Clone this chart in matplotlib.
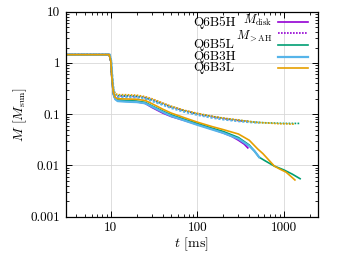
"""Disk mass and mass outside AH vs time for Q6 models (log-log)."""
import numpy as np
import matplotlib
matplotlib.use("Agg")
import matplotlib.pyplot as plt

plt.rcParams["font.family"] = ["cmr10", "DejaVu Serif"]
plt.rcParams["mathtext.fontset"] = "cm"
plt.rcParams["axes.formatter.use_mathtext"] = True

# model names, colours
MODELS = ["Q6B5H", "Q6B5L", "Q6B3H", "Q6B3L"]
COLORS = {"Q6B5H": "#9400d3", "Q6B5L": "#009e73", "Q6B3H": "#56b4e9", "Q6B3L": "#e69f00"}

# time [ms]
T_B5H = [3, 9.6, 10.0, 10.3, 10.7, 11.2, 12, 15, 20, 25, 30, 40, 50, 70, 100, 150, 200, 250, 300, 350, 385]
T_B5L = [3, 9.6, 10.0, 10.3, 10.7, 11.2, 12, 15, 20, 25, 30, 40, 50, 70, 100, 150, 200, 300, 400, 460, 520,
         600, 780, 1000, 1250, 1550]
T_B3H = [3, 9.7, 10.1, 10.4, 10.8, 11.3, 12, 15, 20, 25, 30, 40, 50, 70, 100, 150, 200, 300, 400, 460, 520]
T_B3L = [3, 9.6, 10.0, 10.3, 10.7, 11.2, 12, 15, 20, 25, 30, 40, 50, 70, 100, 150, 200, 300, 400, 500, 575,
         680, 780, 900, 1065, 1200, 1350]

# M_disk [M_sun]
DISK_B5H = [1.45, 1.45, 1.1, 0.5, 0.25, 0.2, 0.185, 0.18, 0.175, 0.162, 0.135, 0.105, 0.09, 0.076, 0.063,
            0.051, 0.043, 0.037, 0.031, 0.026, 0.022]
DISK_B5L = [1.45, 1.45, 1.1, 0.5, 0.25, 0.205, 0.19, 0.185, 0.18, 0.17, 0.145, 0.115, 0.097, 0.08, 0.066,
            0.053, 0.046, 0.035, 0.025, 0.019, 0.0145, 0.0125, 0.0097, 0.0082, 0.0068, 0.0055]
DISK_B3H = [1.45, 1.45, 1.1, 0.5, 0.24, 0.195, 0.18, 0.175, 0.172, 0.163, 0.14, 0.11, 0.092, 0.076, 0.062,
            0.05, 0.043, 0.033, 0.024, 0.019, 0.0145]
DISK_B3L = [1.45, 1.45, 1.1, 0.52, 0.27, 0.215, 0.2, 0.198, 0.195, 0.185, 0.16, 0.125, 0.105, 0.086, 0.07,
            0.057, 0.05, 0.041, 0.031, 0.021, 0.017, 0.0125, 0.0097, 0.0085, 0.0074, 0.0062, 0.0052]

# M_>AH [M_sun]
AH_B5H = [1.45, 1.45, 1.1, 0.55, 0.3, 0.24, 0.225, 0.225, 0.22, 0.21, 0.19, 0.16, 0.138, 0.117, 0.101,
          0.089, 0.082, 0.078, 0.075, 0.073, 0.072]
AH_B5L = [1.45, 1.45, 1.1, 0.55, 0.3, 0.245, 0.23, 0.23, 0.225, 0.21, 0.19, 0.16, 0.14, 0.118, 0.102,
          0.09, 0.083, 0.076, 0.072, 0.070, 0.069, 0.068, 0.067, 0.066, 0.066, 0.066]
AH_B3H = [1.45, 1.45, 1.1, 0.55, 0.29, 0.23, 0.215, 0.215, 0.212, 0.2, 0.18, 0.152, 0.132, 0.112, 0.097,
          0.085, 0.079, 0.073, 0.070, 0.069, 0.068]
AH_B3L = [1.45, 1.45, 1.1, 0.56, 0.31, 0.255, 0.24, 0.24, 0.235, 0.22, 0.2, 0.165, 0.143, 0.12, 0.104,
          0.091, 0.084, 0.077, 0.072, 0.069, 0.068, 0.067, 0.066, 0.065, 0.065, 0.064, 0.064]

SERIES = {
    "Q6B5H": (T_B5H, DISK_B5H, AH_B5H),
    "Q6B5L": (T_B5L, DISK_B5L, AH_B5L),
    "Q6B3H": (T_B3H, DISK_B3H, AH_B3H),
    "Q6B3L": (T_B3L, DISK_B3L, AH_B3L),
}
DOT = (0, (1.0, 0.8))

fig = plt.figure(figsize=(3.38, 2.54), dpi=100)
ax = fig.add_axes([0.194, 0.147, 0.747, 0.807])

for name in MODELS:
    t, d, a = SERIES[name]
    lw = 1.6 if name == "Q6B3H" else 1.2
    ax.plot(t, a, color=COLORS[name], lw=lw, ls=DOT)
for name in MODELS:
    t, d, a = SERIES[name]
    lw = 1.6 if name == "Q6B3H" else 1.2
    ax.plot(t, d, color=COLORS[name], lw=lw)

ax.set_xscale("log"); ax.set_yscale("log")
ax.set_xlim(3, 2500); ax.set_ylim(0.001, 10)
ax.set_xticks([10, 100, 1000]); ax.set_xticklabels(["10", "100", "1000"])
ax.set_yticks([0.001, 0.01, 0.1, 1, 10])
ax.set_yticklabels(["0.001", "0.01", "0.1", "1", "10"])
ax.tick_params(which="both", direction="in", top=True, right=True, labelsize=9.5, pad=4)
ax.tick_params(which="major", length=4.5, width=0.7)
ax.tick_params(which="minor", length=2.5, width=0.6)
ax.grid(True, which="major", color="#d8d8d8", lw=0.6)
for s in ax.spines.values():
    s.set_linewidth(0.9)

ax.set_xlabel(r"$t$ [ms]", fontsize=10, labelpad=1)
ax.set_ylabel(r"$M$ [$M_{\rm sun}$]", fontsize=10, labelpad=1)

# key, gnuplot style: names left, samples right
tr = ax.transAxes
rows = [0.948, 0.895, 0.838, 0.781, 0.724]
keys = [("Q6B5H", "-"), ("Q6B5H", ":"), ("Q6B5L", "-"), ("Q6B3H", "-"), ("Q6B3L", "-")]
for i, (name, ls) in enumerate(keys):
    y = rows[i]
    ax.plot([0.84, 0.96], [y, y], transform=tr, color=COLORS[name],
            lw=1.6 if name == "Q6B3H" else 1.2, ls=DOT if ls == ":" else "-")
    if i != 1:
        ax.text(0.505, y, name, transform=tr, fontsize=9.5, va="center", ha="left")
ax.text(0.82, rows[0] + 0.01, r"$M_{\rm disk}$", transform=tr, fontsize=9, va="center", ha="right")
ax.text(0.82, rows[1] - 0.012, r"$M_{>\rm AH}$", transform=tr, fontsize=9, va="center", ha="right")

fig.savefig("out.png", dpi=100)
